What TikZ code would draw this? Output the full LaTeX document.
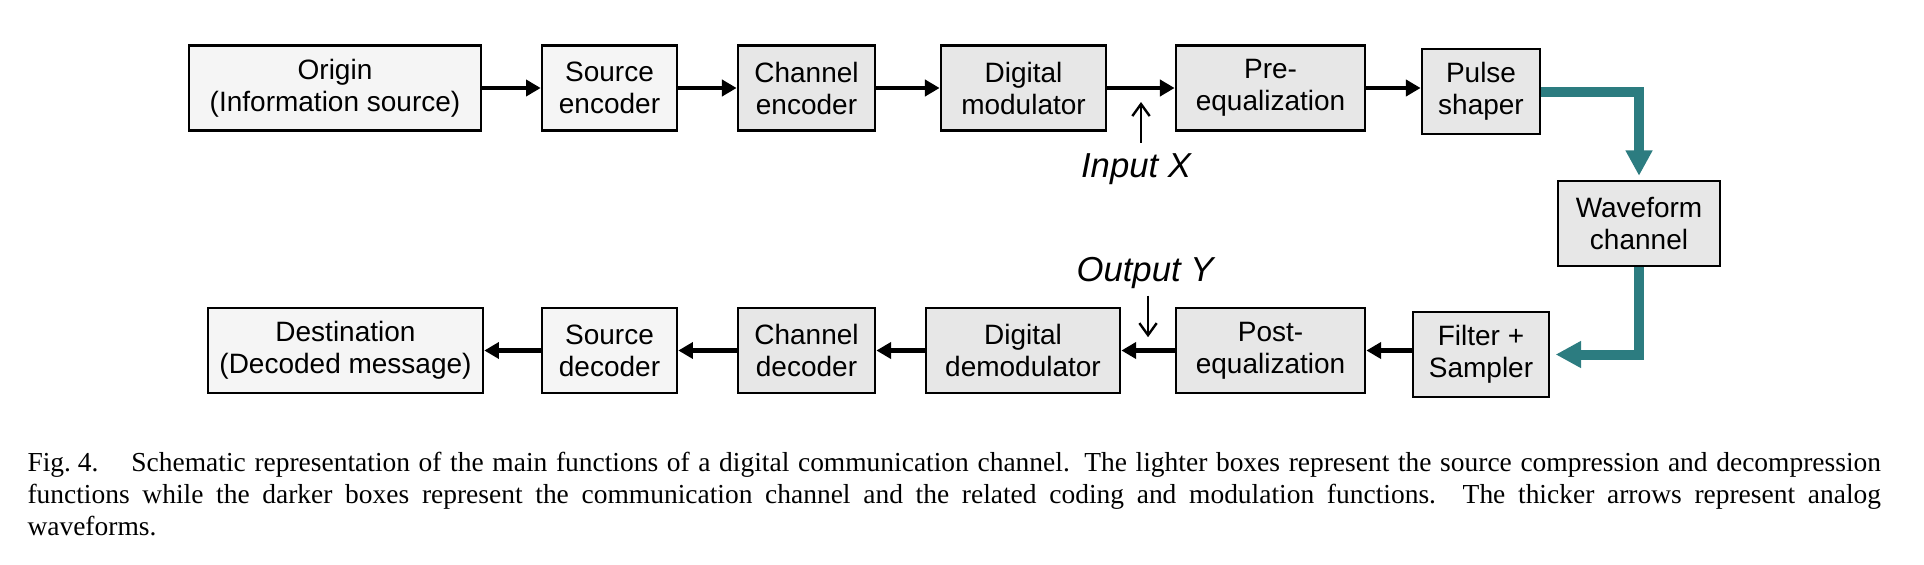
\documentclass[tikz,border=0pt]{standalone}
\usepackage{fontspec}
\setmainfont{Liberation Serif}
\newfontfamily\blockfont{Liberation Sans}
\usetikzlibrary{arrows.meta,calc,positioning}
\definecolor{wavecol}{RGB}{44,124,128}
\definecolor{lightfill}{RGB}{245,245,245}
\definecolor{darkfill}{RGB}{231,231,231}

\begin{document}
\begin{tikzpicture}[x=0.375pt,y=-0.375pt,
    blk/.style={draw, line width=1pt, minimum height=31.8pt, inner sep=1pt, align=center,
                font=\blockfont\fontsize{10.5}{12}\selectfont},
    lightblk/.style={blk, fill=lightfill},
    darkblk/.style={blk, fill=darkfill},
    arr/.style={line width=1.7pt, -{Triangle[length=5.5pt,width=6pt]}},
    thinarr/.style={line width=0.9pt, -{Straight Barb[length=4.5pt,width=6.5pt]}},
    wavearr/.style={wavecol, line width=3.75pt, -{Triangle[length=9.5pt,width=9.5pt]}},
    lbl/.style={inner sep=0pt, font=\blockfont\itshape\fontsize{13}{15}\selectfont}]
    \useasboundingbox (0,0) rectangle (1924,564);

    % 发送端
    \node[lightblk, minimum width=109.5pt] (origin) at (335,88) {Origin\\(Information source)};
    \node[lightblk, minimum width=50.6pt] (srcenc) at (609.5,88) {Source\\encoder};
    \node[darkblk, minimum width=51.4pt] (chenc) at (806.5,88) {Channel\\encoder};
    \node[darkblk, minimum width=61.9pt] (digmod) at (1023.5,88) {Digital\\modulator};
    \node[darkblk, minimum width=70.9pt] (preeq) at (1270.5,88) {Pre-\\equalization};
    \node[darkblk, minimum width=44.3pt] (pulse) at (1481,91.5) {Pulse\\shaper};

    % 信道
    \node[darkblk, minimum width=60.8pt] (wave) at (1639,223.5) {Waveform\\channel};

    % 接收端
    \node[darkblk, minimum width=51pt] (filter) at (1481,354.5) {Filter +\\Sampler};
    \node[darkblk, minimum width=70.9pt] (posteq) at (1270.5,350.5) {Post-\\equalization};
    \node[darkblk, minimum width=72.8pt] (digdemod) at (1023,350.5) {Digital\\demodulator};
    \node[darkblk, minimum width=51.4pt] (chdec) at (806.5,350.5) {Channel\\decoder};
    \node[lightblk, minimum width=50.6pt] (srcdec) at (609.5,350.5) {Source\\decoder};
    \node[lightblk, minimum width=103.1pt] (dest) at (345.5,350.5) {Destination\\(Decoded message)};

    % 箭头
    \draw[arr] (origin.east) -- (srcenc.west);
    \draw[arr] (srcenc.east) -- (chenc.west);
    \draw[arr] (chenc.east) -- (digmod.west);
    \draw[arr] (digmod.east) -- (preeq.west);
    \draw[arr] (preeq.east) -- (preeq.east -| pulse.west);
    \draw[arr] (filter.west |- posteq.east) -- (posteq.east);
    \draw[arr] (posteq.west) -- (digdemod.east);
    \draw[arr] (digdemod.west) -- (chdec.east);
    \draw[arr] (chdec.west) -- (srcdec.east);
    \draw[arr] (srcdec.west) -- (dest.east);

    % 模拟波形
    \draw[wavearr, shorten >=1.5pt] (pulse.east) -| (wave.north);
    \draw[wavearr, shorten >=2pt] (wave.south) |- (filter.east);

    % 输入 X 与输出 Y
    \coordinate (xtap) at ($(digmod.east)!.5!(preeq.west)$);
    \coordinate (ytap) at ($(digdemod.east)!.5!(posteq.west)$);
    \node[lbl, anchor=base] (inX) at (1136,177) {Input X};
    \node[lbl, anchor=base] (outY) at (1145,281) {Output Y};
    \draw[thinarr] ([yshift=3.75pt]inX.north -| xtap) -- ([yshift=-5.25pt]xtap);
    \draw[thinarr] ([yshift=-2.6pt]outY.south -| ytap) -- ([yshift=5pt]ytap);

    % 图注
    \node[anchor=north west, inner sep=0pt, align=left, font=\fontsize{10.3}{12}\selectfont] (caption) at (27,452)
      {\makebox[695pt][s]{\mbox{Fig.\kern0.25em4.}\hspace{1.2em}Schematic representation of the main functions of a digital communication channel. The lighter boxes represent the source compression and decompression}\\
       \makebox[695pt][s]{functions while the darker boxes represent the communication channel and the related coding and modulation functions. The thicker arrows represent analog}\\
       waveforms.};
\end{tikzpicture}
\end{document}
